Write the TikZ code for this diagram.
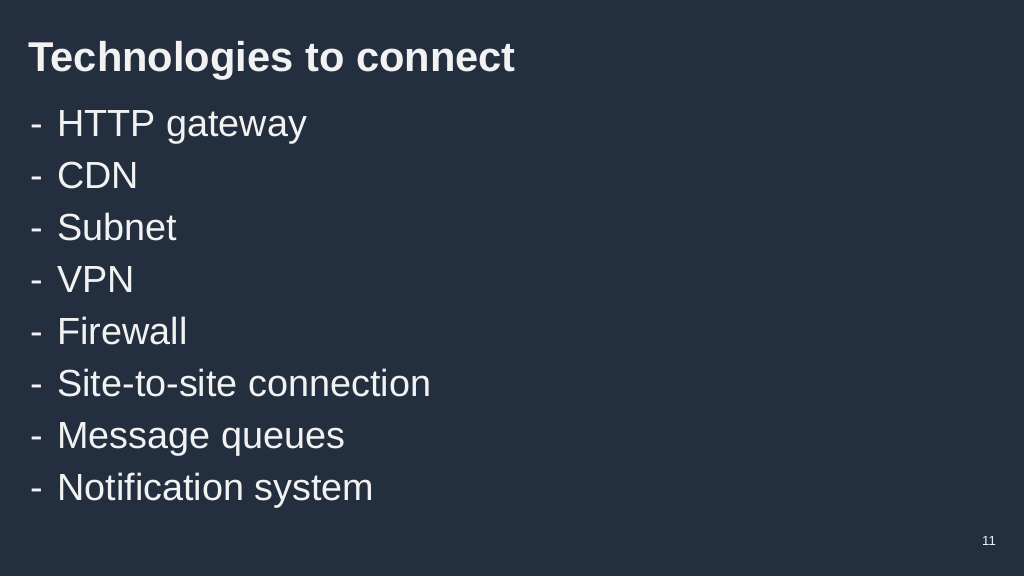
\documentclass[tikz,border=0pt]{standalone}
\usepackage{fontspec}
\setmainfont{Liberation Sans}
\definecolor{slidebg}{HTML}{232E3E}
\definecolor{slidefg}{HTML}{F2F2F2}
\tikzset{
  titletext/.style={anchor=base west,inner sep=0,text=slidefg,font=\fontsize{23.7}{28}\selectfont\bfseries},
  itemtext/.style={anchor=base west,inner sep=0,text=slidefg,font=\fontsize{21.5}{26}\selectfont},
  pagetext/.style={anchor=base,inner sep=0,text=slidefg,font=\fontsize{7.5}{9}\selectfont}
}
\begin{document}
\begin{tikzpicture}[x=0.02cm,y=-0.02cm]
  % background
  \fill[slidebg] (0,0) rectangle (1024,576);
  \useasboundingbox (0,0) rectangle (1024,576);
  % title
  \node[titletext] (title) at (28,71) {Technologies to connect};
  % items
  \foreach \txt [count=\i] in {HTTP gateway,CDN,Subnet,VPN,Firewall,Site-to-site connection,Message queues,Notification system}{
    \node[itemtext] (dash\i) at (30,{84+52*\i}) {-};
    \node[itemtext] (item\i) at (57,{84+52*\i}) {\txt};
  }
  % page number
  \node[pagetext] (page) at (989,545) {11};
\end{tikzpicture}
\end{document}
